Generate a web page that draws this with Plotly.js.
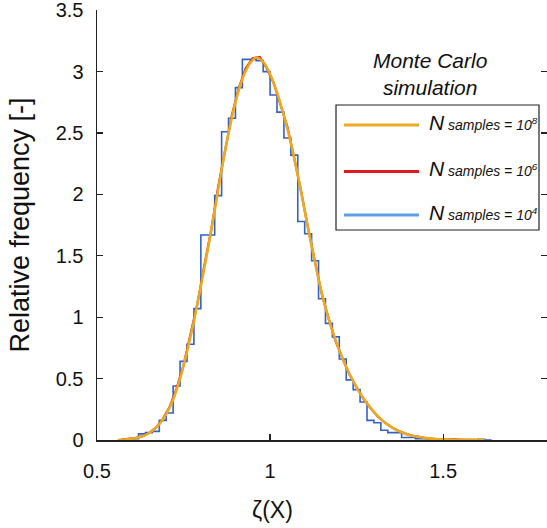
<!DOCTYPE html>
<html>
<head>
<meta charset="utf-8">
<script src="https://cdn.plot.ly/plotly-3.0.1.min.js"></script>
<style>html,body{margin:0;padding:0;background:#fff;}#chart{width:547px;height:528px;}</style>
</head>
<body>
<div id="chart"></div>
<script>
// N samples = 10^8 (smooth curve)
const xOrange = [0.56,0.58,0.60,0.62,0.64,0.66,0.68,0.70,0.72,0.74,0.76,0.78,0.80,0.82,0.84,0.86,0.88,0.90,0.92,0.94,0.96,0.98,1.00,1.02,1.04,1.06,1.08,1.10,1.12,1.14,1.16,1.18,1.20,1.22,1.24,1.26,1.28,1.30,1.32,1.34,1.36,1.38,1.40,1.42,1.44,1.46,1.48,1.50,1.52,1.54,1.56,1.58,1.60,1.62];
const yOrange = [0.000,0.004,0.010,0.020,0.040,0.075,0.130,0.210,0.330,0.500,0.720,0.970,1.250,1.550,1.870,2.200,2.500,2.750,2.940,3.060,3.115,3.080,2.980,2.830,2.640,2.420,2.160,1.870,1.580,1.310,1.080,0.890,0.730,0.595,0.480,0.380,0.300,0.230,0.170,0.125,0.090,0.063,0.043,0.030,0.020,0.013,0.008,0.005,0.003,0.002,0.001,0.001,0.0005,0.000];

// N samples = 10^6
const xRed = [0.57,0.59,0.61,0.63,0.65,0.67,0.69,0.71,0.73,0.75,0.77,0.79,0.81,0.83,0.85,0.87,0.89,0.91,0.93,0.95,0.97,0.99,1.01,1.03,1.05,1.07,1.09,1.11,1.13,1.15,1.17,1.19,1.21,1.23,1.25,1.27,1.29,1.31,1.33,1.35,1.37,1.39,1.41,1.43,1.45,1.47,1.49,1.51,1.53,1.55,1.57,1.59,1.61];
const yRed = [0.003,0.007,0.015,0.029,0.056,0.100,0.170,0.270,0.420,0.610,0.860,1.110,1.420,1.710,2.060,2.360,2.650,2.870,3.030,3.110,3.120,3.030,2.910,2.730,2.550,2.290,2.020,1.720,1.450,1.180,0.980,0.800,0.660,0.530,0.430,0.335,0.260,0.195,0.145,0.105,0.075,0.052,0.036,0.025,0.016,0.010,0.007,0.005,0.003,0.002,0.001,0.001,0.000];

// N samples = 10^4 (histogram, bin left edges and heights)
const blueEdges = [0.58,0.60,0.62,0.64,0.66,0.68,0.70,0.72,0.74,0.76,0.78,0.80,0.82,0.84,0.86,0.88,0.90,0.92,0.94,0.96,0.98,1.00,1.02,1.04,1.06,1.08,1.10,1.12,1.14,1.16,1.18,1.20,1.22,1.24,1.26,1.28,1.30,1.32,1.34,1.36,1.38,1.40,1.42,1.44,1.46,1.48,1.50,1.52,1.54,1.56,1.58,1.60,1.62];
const blueValues = [0.00,0.01,0.05,0.06,0.07,0.16,0.22,0.44,0.64,0.78,1.07,1.67,1.67,1.99,2.51,2.62,2.87,3.10,3.10,3.09,3.00,2.81,2.67,2.46,2.32,1.78,1.68,1.46,1.15,0.95,0.84,0.66,0.49,0.41,0.31,0.16,0.14,0.08,0.06,0.06,0.02,0.02,0.01,0.01,0.01,0.005,0.00,0.005,0.00,0.00,0.00,0.005,0.00];

const xTicks = [0.5, 1, 1.5];
const yTicks = [0, 0.5, 1, 1.5, 2, 2.5, 3, 3.5];
const legendLabels = ['10<sup>8</sup>', '10<sup>6</sup>', '10<sup>4</sup>'];

const cOrange = '#EAAB24';
const cRed = '#E0191C';
const cBlueLegend = '#5C9FE6';
const cBlueStairs = '#3462C2';

const blueX = blueEdges.concat([blueEdges[blueEdges.length-1] + 0.02]);
const blueY = blueValues.concat([blueValues[blueValues.length-1]]);

const traces = [
  {x: blueX, y: blueY, type: 'scatter', mode: 'lines', line: {color: cBlueStairs, width: 1.6, shape: 'hv'}, showlegend: false, hoverinfo: 'skip'},
  {x: xRed, y: yRed, type: 'scatter', mode: 'lines', line: {color: cRed, width: 2.2}, showlegend: false, hoverinfo: 'skip'},
  {x: xOrange, y: yOrange, type: 'scatter', mode: 'lines', line: {color: cOrange, width: 2.6, shape: 'spline', smoothing: 1}, showlegend: false, hoverinfo: 'skip'}
];

// manual legend and x title (positions in paper coordinates)
const L = 97, R = 547, T = 10, B = 440;
const px = v => (v - L) / (R - L);
const py = v => (B - v) / (B - T);
const legendY = [125, 171.5, 215];
const legendColors = [cOrange, cRed, cBlueLegend];
const FONT = 'Liberation Sans, Arial, sans-serif';

const shapes = [
  {type: 'rect', xref: 'paper', yref: 'paper', x0: px(336), x1: px(539), y0: py(230), y1: py(105), line: {color: '#222', width: 1.2}, fillcolor: 'rgba(255,255,255,1)', layer: 'above'}
];
const annotations = [
  {xref: 'paper', yref: 'paper', x: px(430), y: py(74), xanchor: 'center', yanchor: 'middle', showarrow: false, align: 'center',
   text: '<i>Monte Carlo<br>simulation</i>', font: {family: FONT, size: 21, color: '#111'}},
  {xref: 'paper', yref: 'paper', x: px(272), y: py(510), xanchor: 'center', yanchor: 'middle', showarrow: false,
   text: 'ζ(X)', font: {family: FONT, size: 23, color: '#111'}}
];
legendY.forEach((yy, i) => {
  shapes.push({type: 'line', xref: 'paper', yref: 'paper', x0: px(344), x1: px(419), y0: py(yy), y1: py(yy), line: {color: legendColors[i], width: 3}, layer: 'above'});
  annotations.push({xref: 'paper', yref: 'paper', x: px(427), y: py(yy - 3), xanchor: 'left', yanchor: 'middle', showarrow: false,
    text: '<i>N<span style="font-size:14px"> samples = ' + legendLabels[i] + '</span></i>',
    font: {family: FONT, size: 21, color: '#111'}});
});

const layout = {
  width: 547, height: 528,
  margin: {l: L, r: 547 - R, t: T, b: 528 - B},
  paper_bgcolor: '#fff', plot_bgcolor: '#fff',
  font: {family: FONT, size: 20, color: '#111'},
  showlegend: false,
  xaxis: {
    range: [0.5, 1.8], tickvals: xTicks, ticktext: ['0.5', '1', '1.5'],
    showgrid: false, zeroline: false, showline: true, linecolor: '#222', linewidth: 1.5,
    ticks: 'inside', ticklen: 6, tickwidth: 1.3, tickcolor: '#222', ticklabelstandoff: 12,
    ticklabeloverflow: 'allow'
  },
  yaxis: {
    range: [0, 3.502], tickvals: yTicks, ticktext: ['0', '0.5', '1', '1.5', '2', '2.5', '3', '3.5'],
    showgrid: false, zeroline: false, showline: true, linecolor: '#222', linewidth: 1.5, mirror: 'ticks',
    ticks: 'inside', ticklen: 6, tickwidth: 1.3, tickcolor: '#222', ticklabelstandoff: 8,
    ticklabeloverflow: 'allow',
    title: {text: 'Relative frequency [-]', font: {size: 27}, standoff: 18}
  },
  shapes: shapes,
  annotations: annotations
};

Plotly.newPlot('chart', traces, layout, {displayModeBar: false, staticPlot: true});
</script>
</body>
</html>
